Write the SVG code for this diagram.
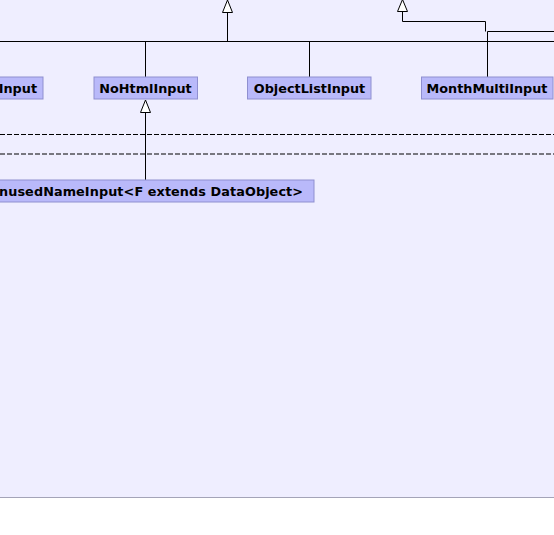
<svg xmlns="http://www.w3.org/2000/svg" width="554" height="535" viewBox="0 0 554 535">
<style>
.bg{fill:#efeeff}
.box{fill:#b9b9fa;stroke:#8f8fd0;stroke-width:1}
.t{font-family:"DejaVu Sans",sans-serif;font-weight:bold;font-size:12.8px;fill:#000}
.c{fill:none;stroke:#000;stroke-width:1}
.d{fill:none;stroke:#000;stroke-width:1;stroke-dasharray:5,2}
.ah{fill:#fff;stroke:#000;stroke-width:1}
</style>
<rect class="bg" x="0" y="0" width="554" height="497"/>
<line x1="0" y1="497.5" x2="554" y2="497.5" stroke="#a4a4b8" stroke-width="1.2"/>
<g id="connectors">
<line class="c" x1="0" y1="41.5" x2="554" y2="41.5"/>
<line class="c" x1="227.5" y1="12" x2="227.5" y2="41.5"/>
<polygon class="ah" points="227.5,0 222.5,12.5 232.5,12.5"/>
<polyline class="c" points="402.5,12 402.5,21.5 485.5,21.5 485.5,31.5"/>
<polyline class="c" points="554,31.5 487.5,31.5 487.5,77"/>
<polygon class="ah" points="402.5,-0.5 397.5,11.5 407.5,11.5"/>
<line class="c" x1="145.5" y1="41.5" x2="145.5" y2="77"/>
<line class="c" x1="309.5" y1="41.5" x2="309.5" y2="77"/>
<line class="c" x1="145.5" y1="112" x2="145.5" y2="180"/>
<polygon class="ah" points="145.5,100 140.5,112.5 150.5,112.5"/>
<line class="d" x1="0" y1="134.5" x2="554" y2="134.5"/>
<line class="d" x1="0" y1="154" x2="554" y2="154"/>
</g>
<g id="node-input">
<rect class="box" x="-50" y="77" width="93" height="22"/>
<text class="t" x="37" y="92.5" text-anchor="end">Input</text>
</g>
<g id="node-nohtmlinput">
<rect class="box" x="94" y="77" width="103.5" height="22"/>
<text class="t" x="145.5" y="92.5" text-anchor="middle">NoHtmlInput</text>
</g>
<g id="node-objectlistinput">
<rect class="box" x="247.5" y="77" width="123.5" height="22"/>
<text class="t" x="309.5" y="92.5" text-anchor="middle">ObjectListInput</text>
</g>
<g id="node-monthmultiinput">
<rect class="box" x="421.5" y="77" width="131.5" height="22"/>
<text class="t" x="487" y="92.5" text-anchor="middle">MonthMultiInput</text>
</g>
<g id="node-unusednameinput">
<rect class="box" x="-50" y="180" width="364" height="22"/>
<text class="t" x="303" y="195.5" text-anchor="end" textLength="304" lengthAdjust="spacing">nusedNameInput&lt;F extends DataObject&gt;</text>
</g>
</svg>
